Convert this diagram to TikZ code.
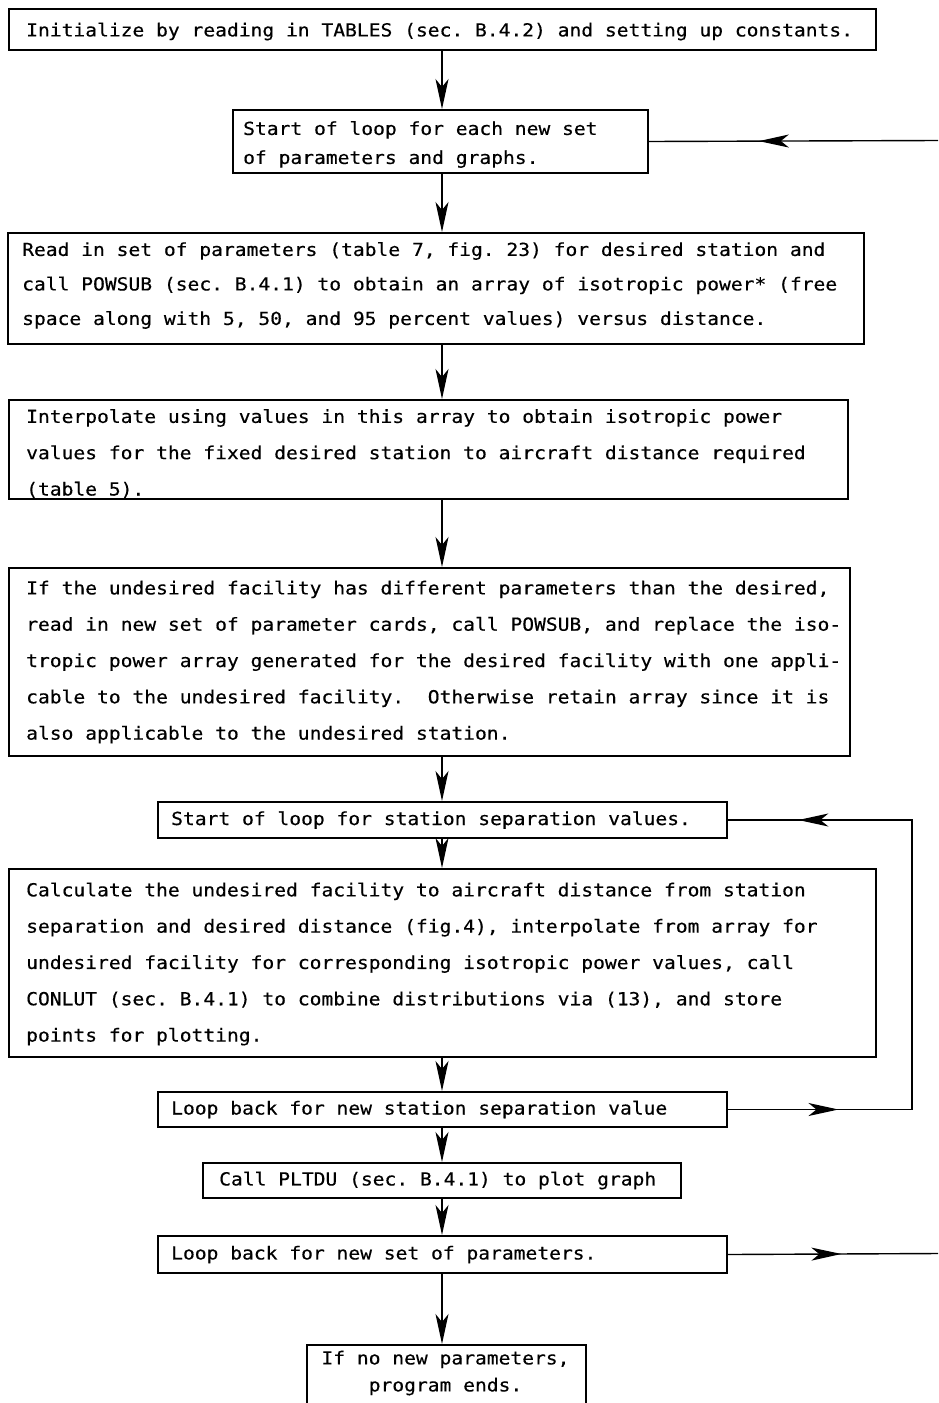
\documentclass[tikz,border=0pt]{standalone}
\usepackage{fontspec}
\usetikzlibrary{arrows.meta,decorations.markings}
\newfontfamily\tw[FakeStretch=1.09,FakeBold=0.4]{DejaVu Sans Mono}
\begin{document}
\begin{tikzpicture}[x=1pt,y=-1pt,
  box/.style={draw, line width=2pt, rectangle, inner sep=0pt, anchor=north west},
  txt/.style={anchor=west, align=left, inner sep=0pt, font=\tw\fontsize{18}{36.3}\selectfont\frenchspacing},
  ctxt/.style={align=center, inner sep=0pt, font=\tw\fontsize{18}{27}\selectfont\frenchspacing},
  conn/.style={line width=1.4pt, line join=miter},
  tipstyle/.tip={Stealth[length=30pt,width=13pt,inset=8pt]},
  arr/.style={conn, -tipstyle},
  midarrow/.style={conn, postaction={decorate}, decoration={markings, mark=at position #1 with {\arrow{tipstyle}}}},
  twoarrows/.style 2 args={conn, postaction={decorate}, decoration={markings, mark=at position #1 with {\arrow{tipstyle}}, mark=at position #2 with {\arrow{tipstyle}}}}
]
\useasboundingbox (0,0) rectangle (938,1403);
\fill[white] (0,0) rectangle (938,1403);

% boxes
\node[box, minimum width=867pt, minimum height=41pt]  (n1)  at (8,8) {};
\node[box, minimum width=415pt, minimum height=63pt]  (n2)  at (232,109) {};
\node[box, minimum width=856pt, minimum height=111pt] (n3)  at (7,232) {};
\node[box, minimum width=839pt, minimum height=99pt]  (n4)  at (8,399) {};
\node[box, minimum width=841pt, minimum height=188pt] (n5)  at (8,567) {};
\node[box, minimum width=569pt, minimum height=36pt]  (n6)  at (157,801) {};
\node[box, minimum width=867pt, minimum height=188pt] (n7)  at (8,868) {};
\node[box, minimum width=569pt, minimum height=35pt]  (n8)  at (157,1091) {};
\node[box, minimum width=478pt, minimum height=35pt]  (n9)  at (202,1162) {};
\node[box, minimum width=569pt, minimum height=37pt]  (n10) at (157,1235) {};
\node[box, minimum width=279pt, minimum height=71pt]  (n11) at (306,1344) {};

% texts
\node[txt] (t1) at ([xshift=18pt,yshift=-2pt]n1.west) {Initialize by reading in TABLES (sec. B.4.2) and setting up constants.};
\node[txt, font=\tw\fontsize{18}{29}\selectfont\frenchspacing] (t2) at ([xshift=11pt,yshift=-3pt]n2.west) {Start of loop for each new set\\of parameters and graphs.};
\node[txt, font=\tw\fontsize{18}{34.5}\selectfont\frenchspacing] (t3) at ([xshift=15pt,yshift=3pt]n3.west) {Read in set of parameters (table 7, fig. 23) for desired station and\\call POWSUB (sec. B.4.1) to obtain an array of isotropic power* (free\\space along with 5, 50, and 95 percent values) versus distance.};
\node[txt] (t4) at ([xshift=18pt,yshift=-4pt]n4.west) {Interpolate using values in this array to obtain isotropic power\\values for the fixed desired station to aircraft distance required\\(table 5).};
\node[txt] (t5) at ([xshift=18pt]n5.west) {If the undesired facility has different parameters than the desired,\\read in new set of parameter cards, call POWSUB, and replace the iso-\\tropic power array generated for the desired facility with one appli-\\cable to the undesired facility.\ \ Otherwise retain array since it is\\also applicable to the undesired station.};
\node[txt] (t6) at ([xshift=14pt]n6.west) {Start of loop for station separation values.};
\node[txt] (t7) at ([xshift=18pt,yshift=-1pt]n7.west) {Calculate the undesired facility to aircraft distance from station\\separation and desired distance (fig.4), interpolate from array for\\undesired facility for corresponding isotropic power values, call\\CONLUT (sec. B.4.1) to combine distributions via (13), and store\\points for plotting.};
\node[txt] (t8) at ([xshift=14pt]n8.west) {Loop back for new station separation value};
\node[txt] (t9) at ([xshift=17pt]n9.west) {Call PLTDU (sec. B.4.1) to plot graph};
\node[txt] (t10) at ([xshift=14pt]n10.west) {Loop back for new set of parameters.};
\node[ctxt] (t11) at (445.5,1373) {If no new parameters,\\program ends.};

% vertical connectors
\coordinate (ax) at (442,0);
\draw[arr] (n1.south -| ax) -- (n2.north -| ax);
\draw[arr] (n2.south -| ax) -- (n3.north -| ax);
\draw[arr] (n3.south -| ax) -- (n4.north -| ax);
\draw[arr] (n4.south -| ax) -- (n5.north -| ax);
\draw[arr] (n5.south -| ax) -- (n6.north -| ax);
\draw[arr] (n6.south -| ax) -- (n7.north -| ax);
\draw[arr] (n7.south -| ax) -- (n8.north -| ax);
\draw[arr] (n8.south -| ax) -- (n9.north -| ax);
\draw[arr] (n9.south -| ax) -- (n10.north -| ax);
\draw[arr] (n10.south -| ax) -- (n11.north -| ax);

% inner loop
\coordinate (c8) at (912,0);
\draw[twoarrows={0.168}{0.893}] (n8.east) -- (n8.east -| c8) -- (n6.east -| c8) -- (n6.east);

% outer loop (leaves the picture at the right)
\coordinate (rt) at (938,140.5);
\coordinate (rb) at (938,1253.5);
\draw[midarrow=0.62] (rt) -- (n2.east);
\draw[midarrow=0.54] (n10.east) -- (rb);
\end{tikzpicture}
\end{document}
